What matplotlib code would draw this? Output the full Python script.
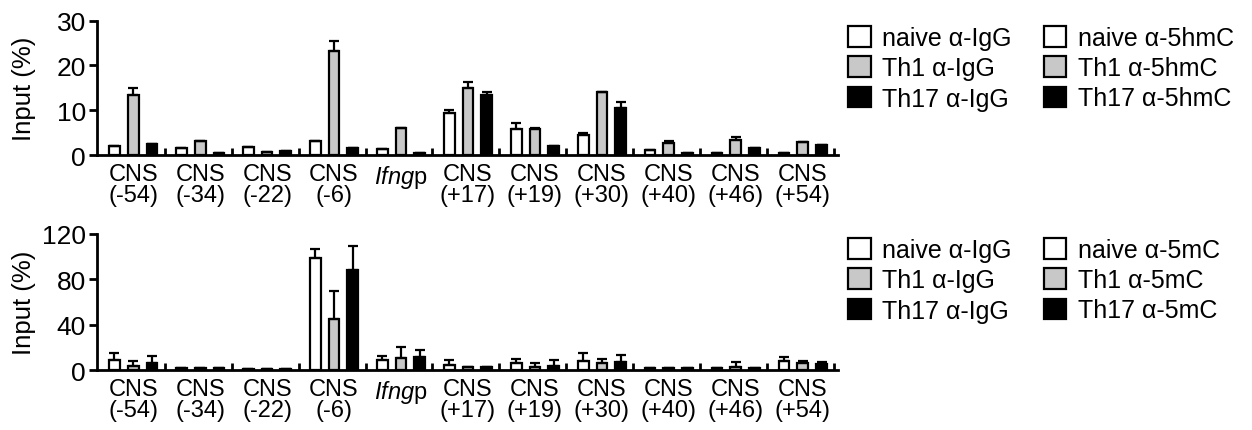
import matplotlib.pyplot as plt
from matplotlib.patches import Patch
import numpy as np

plt.rcParams['font.family'] = ['Liberation Sans', 'DejaVu Sans']
plt.rcParams['mathtext.fontset'] = 'custom'
plt.rcParams['mathtext.rm'] = 'Liberation Sans'
plt.rcParams['mathtext.it'] = 'Liberation Sans:italic'

regions = ["CNS\n(-54)", "CNS\n(-34)", "CNS\n(-22)", "CNS\n(-6)", r"$\it{Ifng}$p",
           "CNS\n(+17)", "CNS\n(+19)", "CNS\n(+30)", "CNS\n(+40)", "CNS\n(+46)", "CNS\n(+54)"]

# 5hmC (top)
hmc_naive = [2.0, 1.5, 1.9, 3.1, 1.3, 9.4, 5.8, 4.5, 1.1, 0.4, 0.5]
hmc_th1 = [13.3, 3.2, 0.7, 23.3, 6.1, 14.9, 5.8, 14.1, 2.6, 3.35, 3.0]
hmc_th17 = [2.4, 0.5, 0.8, 1.6, 0.4, 13.4, 2.0, 10.6, 0.5, 1.6, 2.2]
hmc_naive_err = [0, 0, 0, 0, 0, 0.7, 1.3, 0.4, 0, 0, 0]
hmc_th1_err = [1.6, 0, 0, 2.1, 0, 1.5, 0.3, 0, 0.6, 0.7, 0]
hmc_th17_err = [0, 0, 0, 0, 0, 0.6, 0, 1.3, 0, 0, 0]

# 5mC (bottom)
mc_naive = [8.8, 2.0, 1.0, 99.0, 8.8, 4.7, 6.0, 8.2, 1.5, 1.5, 8.2]
mc_th1 = [3.8, 2.0, 1.0, 45.0, 10.3, 2.5, 3.0, 5.9, 2.0, 3.0, 6.0]
mc_th17 = [5.9, 1.5, 1.0, 88.0, 11.5, 2.5, 4.0, 6.8, 1.5, 2.0, 5.0]
mc_naive_err = [6.2, 0, 0, 7.5, 3.2, 4.0, 3.4, 6.5, 0, 0, 3.6]
mc_th1_err = [4.2, 0, 0, 25.0, 9.7, 0, 3.0, 3.5, 0, 4.0, 2.2]
mc_th17_err = [6.1, 0, 0, 21.0, 6.5, 0, 4.5, 6.2, 0, 0, 2.5]

colors = ["white", "#c8c8c8", "black"]
x = np.arange(len(regions))
offs = [-0.28, 0.0, 0.28]
w = 0.16

fig = plt.figure(figsize=(12.52, 4.31), dpi=100)
ax1 = fig.add_axes([0.0775, 0.638, 0.5915, 0.312])
ax2 = fig.add_axes([0.0775, 0.139, 0.5915, 0.316])


def draw(ax, series, errs, ymax, yticks):
    for vals, err, c, o in zip(series, errs, colors, offs):
        ax.bar(x + o, vals, w, color=c, edgecolor="black", linewidth=1.6, zorder=2)
        ax.errorbar(x + o, vals, yerr=[np.zeros(len(err)), err], fmt="none",
                    ecolor="black", elinewidth=1.6, capsize=3.5, capthick=1.6, zorder=3)
    ax.set_xlim(-0.54, 10.52)
    ax.set_ylim(0, ymax)
    ax.set_yticks(yticks)
    ax.set_xticks(x)
    ax.set_xticklabels(regions, fontsize=17, linespacing=0.92, va="top")
    ax.set_xticks(x + 0.47, minor=True)
    ax.tick_params(axis="x", which="major", length=0, pad=6)
    ax.tick_params(axis="x", which="minor", direction="in", length=5, width=2)
    ax.tick_params(axis="y", direction="out", length=6, width=2, labelsize=19, pad=2)
    for s in ["top", "right"]:
        ax.spines[s].set_visible(False)
    for s in ["left", "bottom"]:
        ax.spines[s].set_linewidth(2)
    ax.set_ylabel("Input (%)", fontsize=18.5)


draw(ax1, [hmc_naive, hmc_th1, hmc_th17], [hmc_naive_err, hmc_th1_err, hmc_th17_err], 30, [0, 10, 20, 30])
draw(ax2, [mc_naive, mc_th1, mc_th17], [mc_naive_err, mc_th1_err, mc_th17_err], 120, [0, 40, 80, 120])
ax1.yaxis.set_label_coords(-0.083, 0.5)
ax2.yaxis.set_label_coords(-0.083, 0.5)


def legend(mark, ytop):
    labels = ["naive α-IgG", "Th1 α-IgG", "Th17 α-IgG",
              f"naive α-{mark}", f"Th1 α-{mark}", f"Th17 α-{mark}"]
    handles = [Patch(facecolor=c, edgecolor="black", linewidth=1.6) for c in colors * 2]
    fig.legend(handles, labels, loc="upper left", bbox_to_anchor=(848 / 1252, ytop),
               ncol=2, frameon=False, fontsize=18, handlelength=0.9, handleheight=0.9,
               handletextpad=0.45, columnspacing=1.3, labelspacing=0.25, borderpad=0,
               borderaxespad=0)


legend("5hmC", 1 - 27 / 431)
legend("5mC", 1 - 239 / 431)

fig.savefig("out.png", dpi=100)
